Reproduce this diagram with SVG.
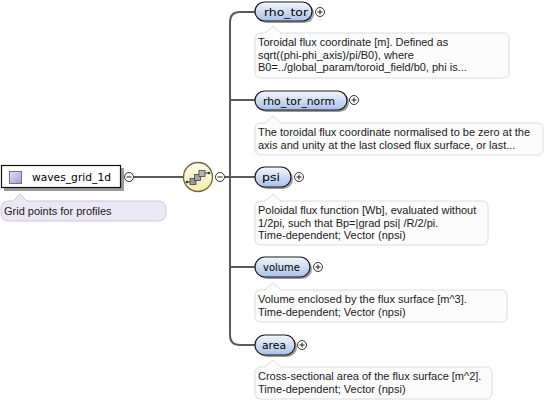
<svg xmlns="http://www.w3.org/2000/svg" width="552" height="403" viewBox="0 0 552 403">
<defs>
<linearGradient id="gNode" x1="0" y1="0" x2="0" y2="1">
<stop offset="0" stop-color="#f4f7fd"/>
<stop offset="1" stop-color="#a8c0e8"/>
</linearGradient>
<linearGradient id="gSeq" x1="0" y1="0" x2="0" y2="1">
<stop offset="0" stop-color="#fffde8"/>
<stop offset="1" stop-color="#f3eaa8"/>
</linearGradient>
<linearGradient id="gIcon" x1="0" y1="0" x2="1" y2="1">
<stop offset="0" stop-color="#e8e2f6"/>
<stop offset="1" stop-color="#a898d0"/>
</linearGradient>
</defs>
<style>
.conn{fill:none;stroke:#5a5a5a;stroke-width:2}
.pill{fill:url(#gNode);stroke:#1a1a1a;stroke-width:1.2}
.shadow{fill:#9a9a9a}
.lbl{font-family:"DejaVu Sans",sans-serif;font-size:11px;fill:#000}
.doc{fill:#fcfcfc;stroke:#dcdcdc;stroke-width:1}
.dtxt{font-family:"Liberation Sans",Arial,sans-serif;font-size:11px;fill:#1a1a1a}
.btn{fill:#fff;stroke:#333;stroke-width:1}
.sign{stroke:#222;stroke-width:1;fill:none}
</style>

<g id="connectors">
<line class="conn" x1="134" y1="177" x2="184" y2="177"/>
<line class="conn" x1="225" y1="177" x2="255" y2="177"/>
<path class="conn" d="M255,12 H240 Q230,12 230,22 V335 Q230,345 240,345 H255"/>
<line class="conn" x1="230" y1="100" x2="255" y2="100"/>
<line class="conn" x1="230" y1="267" x2="255" y2="267"/>
</g>

<g id="waves_grid_1d">
<rect class="shadow" x="4" y="168" width="120" height="23"/>
<rect x="1.5" y="165.5" width="119" height="22" fill="#fff" stroke="#111" stroke-width="1.2"/>
<rect x="9.5" y="171.5" width="12" height="12" fill="url(#gIcon)" stroke="#7868a8" stroke-width="1"/>
<text class="lbl" x="32" y="181" textLength="79" lengthAdjust="spacingAndGlyphs">waves_grid_1d</text>
<circle class="btn" cx="129" cy="177" r="4.5"/>
<path class="sign" d="M126.5,177 H131.5"/>
<path d="M9,201 H13 L20,194 L27,201 H158 Q166,201 166,209 V213 Q166,221 158,221 H9 Q1,221 1,213 V209 Q1,201 9,201 Z" fill="#ebe7f4" stroke="#cdc6de" stroke-width="1"/>
<text class="dtxt" x="4" y="215">Grid points for profiles</text>
</g>

<g id="sequence">
<circle cx="198" cy="177" r="14.5" fill="url(#gSeq)" stroke="#6b6540" stroke-width="1.3"/>
<path d="M187,182 H191 M203,173 H208" stroke="#333" stroke-width="1.2"/>
<circle cx="187" cy="182" r="1.3" fill="#333"/>
<circle cx="209" cy="173" r="1.3" fill="#333"/>
<rect x="190" y="178.5" width="6" height="6" fill="#9a9a9a" stroke="#444" stroke-width="0.8"/>
<rect x="194.5" y="174.5" width="6" height="6" fill="#a8a8a8" stroke="#444" stroke-width="0.8"/>
<rect x="199" y="170.5" width="6" height="6" fill="#b5b5b5" stroke="#444" stroke-width="0.8"/>
<circle class="btn" cx="220" cy="177" r="4.5"/>
<path class="sign" d="M217.5,177 H222.5"/>
</g>

<g id="rho_tor">
<rect class="shadow" x="257" y="4" width="57" height="19" rx="9.5"/>
<rect class="pill" x="255" y="2" width="57" height="19" rx="9.5"/>
<text class="lbl" x="264" y="16" textLength="44" lengthAdjust="spacingAndGlyphs">rho_tor</text>
<circle class="btn" cx="320" cy="12" r="4.5"/>
<path class="sign" d="M317.5,12 H322.5 M320,9.5 V14.5"/>
<path class="doc" d="M261,33 H265 L273,26 L281,33 H503 Q509,33 509,39 V72 Q509,78 503,78 H261 Q255,78 255,72 V39 Q255,33 261,33 Z"/>
<text class="dtxt" x="258" y="46">Toroidal flux coordinate [m]. Defined as</text>
<text class="dtxt" x="258" y="58.5">sqrt((phi-phi_axis)/pi/B0), where</text>
<text class="dtxt" x="258" y="71">B0=../global_param/toroid_field/b0, phi is...</text>
</g>

<g id="rho_tor_norm">
<rect class="shadow" x="257" y="93" width="92" height="19" rx="9.5"/>
<rect class="pill" x="255" y="91" width="92" height="19" rx="9.5"/>
<text class="lbl" x="263" y="105" textLength="72" lengthAdjust="spacingAndGlyphs">rho_tor_norm</text>
<circle class="btn" cx="354" cy="100" r="4.5"/>
<path class="sign" d="M351.5,100 H356.5 M354,97.5 V102.5"/>
<path class="doc" d="M261,123 H265 L273,116 L281,123 H537 Q543,123 543,129 V149 Q543,155 537,155 H261 Q255,155 255,149 V129 Q255,123 261,123 Z"/>
<text class="dtxt" x="258" y="136">The toroidal flux coordinate normalised to be zero at the</text>
<text class="dtxt" x="258" y="148.5">axis and unity at the last closed flux surface, or last...</text>
</g>

<g id="psi">
<rect class="shadow" x="257" y="169" width="36" height="20" rx="10"/>
<rect class="pill" x="255" y="167" width="36" height="20" rx="10"/>
<text class="lbl" x="262" y="181" textLength="18" lengthAdjust="spacingAndGlyphs">psi</text>
<circle class="btn" cx="299" cy="177" r="4.5"/>
<path class="sign" d="M296.5,177 H301.5 M299,174.5 V179.5"/>
<path class="doc" d="M261,201 H265 L273,194 L281,201 H482 Q488,201 488,207 V239 Q488,245 482,245 H261 Q255,245 255,239 V207 Q255,201 261,201 Z"/>
<text class="dtxt" x="258" y="214">Poloidal flux function [Wb], evaluated without</text>
<text class="dtxt" x="258" y="226.5">1/2pi, such that Bp=|grad psi| /R/2/pi.</text>
<text class="dtxt" x="258" y="239">Time-dependent; Vector (npsi)</text>
</g>

<g id="volume">
<rect class="shadow" x="257" y="259" width="55" height="20" rx="10"/>
<rect class="pill" x="255" y="257" width="55" height="20" rx="10"/>
<text class="lbl" x="263" y="271" textLength="37" lengthAdjust="spacingAndGlyphs">volume</text>
<circle class="btn" cx="318" cy="267" r="4.5"/>
<path class="sign" d="M315.5,267 H320.5 M318,264.5 V269.5"/>
<path class="doc" d="M261,290 H265 L273,283 L281,290 H501 Q507,290 507,296 V316 Q507,322 501,322 H261 Q255,322 255,316 V296 Q255,290 261,290 Z"/>
<text class="dtxt" x="258" y="303">Volume enclosed by the flux surface [m^3].</text>
<text class="dtxt" x="258" y="315.5">Time-dependent; Vector (npsi)</text>
</g>

<g id="area">
<rect class="shadow" x="257" y="337" width="40" height="20" rx="10"/>
<rect class="pill" x="255" y="335" width="40" height="20" rx="10"/>
<text class="lbl" x="262" y="349" textLength="24" lengthAdjust="spacingAndGlyphs">area</text>
<circle class="btn" cx="302" cy="345" r="4.5"/>
<path class="sign" d="M299.5,345 H304.5 M302,342.5 V347.5"/>
<path class="doc" d="M261,367 H265 L273,360 L281,367 H486 Q492,367 492,373 V393 Q492,399 486,399 H261 Q255,399 255,393 V373 Q255,367 261,367 Z"/>
<text class="dtxt" x="258" y="380">Cross-sectional area of the flux surface [m^2].</text>
<text class="dtxt" x="258" y="392.5">Time-dependent; Vector (npsi)</text>
</g>
</svg>
